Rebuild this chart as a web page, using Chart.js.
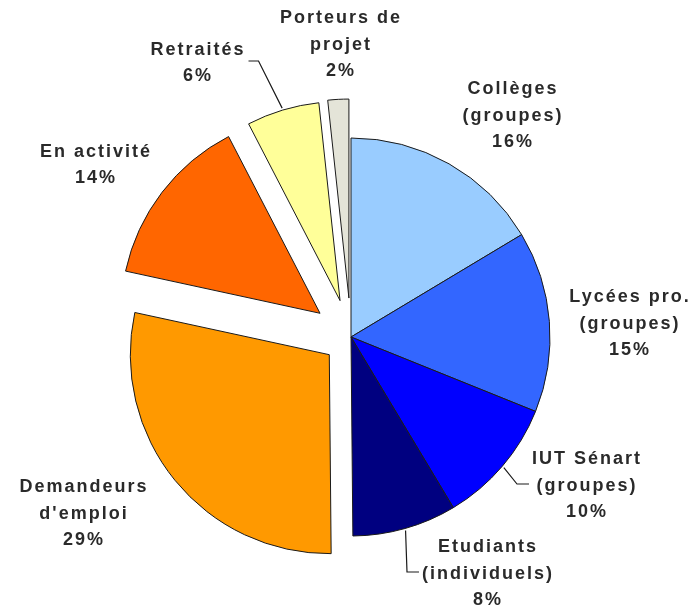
<!DOCTYPE html>
<html>
<head>
<meta charset="utf-8">
<script src="https://cdn.jsdelivr.net/npm/chart.js@4.4.0/dist/chart.umd.min.js"></script>
<style>
  html, body { margin: 0; padding: 0; background: #fff; }
  #wrap { width: 692px; height: 612px; }
</style>
</head>
<body>
<div id="wrap"><canvas id="pie" width="692" height="612"></canvas></div>
<script>
// Catégories du public, dans l'ordre horaire depuis midi
const categories = [
    ['Collèges', '(groupes)'],
    ['Lycées pro.', '(groupes)'],
    ['IUT Sénart', '(groupes)'],
    ['Etudiants', '(individuels)'],
    ['Demandeurs', "d'emploi"],
    ['En activité'],
    ['Retraités'],
    ['Porteurs de', 'projet']
];

// Parts (%)
const values = [16.4, 14.7, 10.3, 8.45, 28.55, 14.0, 5.9, 1.7];

const colors = ['#99ccff', '#3366ff', '#0000ff', '#000080', '#ff9900', '#ff6600', '#ffff99', '#e4e4d8'];

// Décalage des parts détachées (px)
const explode = [0, 0, 0, 0, 28, 39, 38, 39];

// Centre des étiquettes, relatif au centre du camembert
const labelPos = [[161, -221], [278, -13], [235, 149], [136, 237], [-268, 177], [-256, -172], [-154, -274], [-11, -292]];

// Traits de rappel : côté du bloc de texte où arrive le trait
const leaders = [null, null, 'left', 'left', null, null, 'right', null];

function sliceDir(arc) {
    const mid = (arc.startAngle + arc.endAngle) / 2;
    return [Math.cos(mid), Math.sin(mid)];
}

// Dessine chaque part avec son décalage (sans agrandir le rayon comme le fait "offset")
const explodePlugin = {
    id: 'explode',
    beforeDatasetDraw(chart, args) {
        const ctx = chart.ctx;
        args.meta.data.forEach((arc, i) => {
            const [dx, dy] = sliceDir(arc);
            ctx.save();
            ctx.translate(dx * explode[i], dy * explode[i]);
            arc.draw(ctx);
            ctx.restore();
        });
        return false;
    }
};

const labelPlugin = {
    id: 'sliceLabels',
    afterDatasetsDraw(chart) {
        const ctx = chart.ctx;
        const meta = chart.getDatasetMeta(0);
        const total = values.reduce((a, b) => a + b, 0);
        const ls = 2;
        const lh = 26.5;
        ctx.save();
        ctx.font = 'bold 18px "Liberation Sans", Arial, sans-serif';
        ctx.letterSpacing = ls + 'px';
        ctx.fillStyle = '#2a2a2a';
        ctx.strokeStyle = '#1a1a1a';
        ctx.lineWidth = 1.2;
        ctx.textAlign = 'center';
        ctx.textBaseline = 'middle';
        meta.data.forEach((arc, i) => {
            const lines = categories[i].concat([Math.round(values[i] / total * 100) + '%']);
            const cx = arc.x + labelPos[i][0];
            const cy = arc.y + labelPos[i][1];
            const top = cy - (lines.length - 1) * lh / 2;
            let w = 0;
            lines.forEach((t, k) => {
                w = Math.max(w, ctx.measureText(t).width - ls);
                ctx.fillText(t, cx + ls / 2, top + k * lh);
            });
            if (leaders[i]) {
                const [dx, dy] = sliceDir(arc);
                const r = explode[i] + arc.outerRadius + 2;
                const ax = arc.x + dx * r;
                const ay = arc.y + dy * r;
                const edge = leaders[i] === 'left' ? cx - w / 2 - 3 : cx + w / 2 + 5;
                const elbow = leaders[i] === 'left' ? edge - 12 : edge + 10;
                ctx.beginPath();
                ctx.moveTo(ax, ay);
                ctx.lineTo(elbow, cy - 2);
                ctx.lineTo(edge, cy - 2);
                ctx.stroke();
            }
        });
        ctx.restore();
    }
};

new Chart(document.getElementById('pie'), {
    type: 'pie',
    data: {
        labels: categories.map(c => c.join(' ')),
        datasets: [{
            data: values,
            backgroundColor: colors,
            borderColor: '#1a1a1a',
            borderWidth: 1,
            radius: 199
        }]
    },
    options: {
        responsive: false,
        animation: false,
        layout: { padding: { left: 10, top: 62, right: 0, bottom: 0 } },
        plugins: {
            legend: { display: false },
            tooltip: { enabled: false }
        }
    },
    plugins: [explodePlugin, labelPlugin]
});
</script>
</body>
</html>
